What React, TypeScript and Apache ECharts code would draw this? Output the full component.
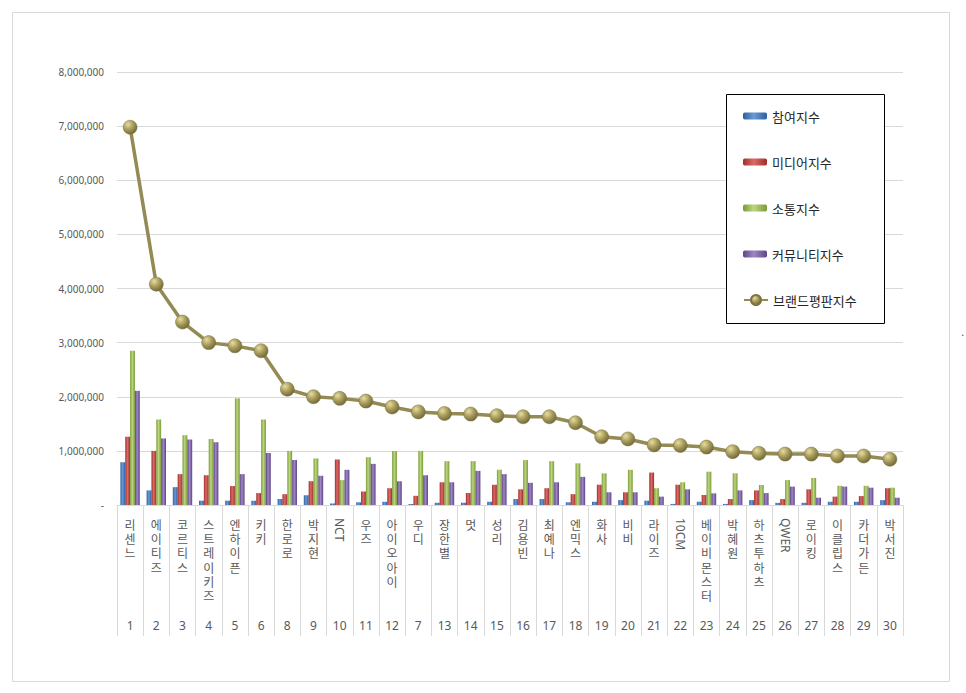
import React, { useEffect, useRef } from "react";
import * as echarts from "echarts";

const names = ["리센느","에이티즈","코르티스","스트레이키즈","엔하이픈","키키","한로로","박지현","NCT","우즈","아이오아이","우디","장한별","멋","성리","김용빈","최예나","엔믹스","화사","비비","라이즈","10CM","베이비몬스터","박혜원","하츠투하츠","QWER","로이킹","이클립스","카더가든","박서진"];
const ranks = ["1","2","3","4","5","6","8","9","10","11","12","7","13","14","15","16","17","18","19","20","21","22","23","24","25","26","27","28","29","30"];
const participation = [790000,270000,330000,80000,80000,80000,110000,180000,30000,50000,60000,20000,40000,40000,60000,110000,110000,50000,60000,90000,80000,20000,60000,20000,90000,40000,40000,60000,60000,90000];
const media = [1260000,1000000,570000,550000,350000,220000,200000,440000,840000,250000,310000,170000,420000,220000,375000,290000,310000,200000,375000,235000,600000,375000,185000,110000,270000,110000,290000,155000,165000,310000];
const communication = [2850000,1580000,1290000,1220000,1970000,1580000,1000000,860000,460000,880000,1000000,1000000,810000,810000,650000,830000,810000,770000,585000,650000,310000,420000,615000,585000,370000,460000,500000,355000,355000,320000];
const community = [2110000,1230000,1210000,1160000,570000,960000,830000,540000,650000,760000,440000,550000,420000,630000,570000,410000,420000,520000,235000,235000,155000,290000,215000,270000,220000,340000,135000,340000,320000,135000];
const brand = [6980000,4080000,3380000,3000000,2940000,2850000,2140000,2000000,1970000,1920000,1810000,1720000,1690000,1680000,1650000,1630000,1630000,1520000,1260000,1220000,1110000,1100000,1070000,985000,955000,940000,940000,905000,905000,845000];
const seriesNames = ["참여지수", "미디어지수", "소통지수", "커뮤니티지수", "브랜드평판지수"];

const isLatin = (s: string) => /^[A-Za-z0-9]+$/.test(s);

const grad = (dark: string, light: string) =>
  new echarts.graphic.LinearGradient(0, 0, 1, 0, [
    { offset: 0, color: dark },
    { offset: 0.45, color: light },
    { offset: 1, color: dark },
  ]);

export default function App() {
  const ref = useRef<HTMLDivElement>(null);
  useEffect(() => {
    if (!ref.current) return;
    const chart = echarts.init(ref.current, undefined, { renderer: "svg" });
    const korean = '"Noto Sans CJK KR", "Noto Sans", sans-serif';
    const barColors = [
      grad("#2E5F9E", "#6A9AD6"),
      grad("#9E2F2C", "#DB6A66"),
      grad("#7A9A38", "#BCD67E"),
      grad("#5E4586", "#9F86C4"),
    ];
    const barData = [participation, media, communication, community];
    const option: any = {
      animation: false,
      backgroundColor: "#fff",
      grid: { left: 117, right: 63, top: 72, bottom: 188, containLabel: false },
      legend: [
        {
          orient: "vertical",
          left: 743,
          top: 109.5,
          padding: 0,
          itemWidth: 24,
          itemHeight: 7,
          itemGap: 33,
          z: 6,
          data: seriesNames.slice(0, 4),
          textStyle: { fontFamily: korean, fontSize: 13, color: "#262626" },
        },
        {
          orient: "vertical",
          left: 743,
          top: 293.5,
          padding: 0,
          itemWidth: 24,
          itemHeight: 12.5,
          z: 6,
          data: [seriesNames[4]],
          textStyle: { fontFamily: korean, fontSize: 13, color: "#262626" },
        },
      ],
      xAxis: [
        {
          type: "category",
          data: names,
          position: "bottom",
          boundaryGap: true,
          axisLine: { show: true, lineStyle: { color: "#D9D9D9", width: 1 } },
          axisTick: { show: true, interval: 0, length: 131, lineStyle: { color: "#D9D9D9" } },
          axisLabel: {
            interval: (_i: number, v: string) => !isLatin(v),
            margin: 12,
            fontFamily: korean,
            fontSize: 12,
            lineHeight: 14.3,
            color: "#595959",
            formatter: (v: string) => v.split("").join("\n"),
          },
        },
        {
          type: "category",
          data: names,
          position: "bottom",
          axisLine: { show: false },
          axisTick: { show: false },
          axisLabel: {
            interval: 0,
            margin: 114,
            fontFamily: '"Noto Sans", sans-serif',
            fontSize: 12,
            color: "#595959",
            formatter: (_v: string, i: number) => ranks[i],
          },
        },
        {
          type: "category",
          data: names,
          position: "bottom",
          axisLine: { show: false },
          axisTick: { show: false },
          axisLabel: {
            interval: (_i: number, v: string) => isLatin(v),
            margin: 13,
            rotate: -90,
            fontFamily: '"Noto Sans", sans-serif',
            fontSize: 12,
            color: "#595959",
          },
        },
      ],
      yAxis: {
        type: "value",
        min: 0,
        max: 8000000,
        interval: 1000000,
        axisLine: { show: false },
        axisTick: { show: false },
        splitLine: { lineStyle: { color: "#D9D9D9", width: 1 } },
        axisLabel: {
          margin: 13,
          fontFamily: '"Noto Sans", sans-serif',
          fontSize: 10,
          color: "#595959",
          formatter: (v: number) => (v === 0 ? "-" : v.toLocaleString("en-US")),
        },
      },
      series: [
        ...barData.map((d, i) => ({
          name: seriesNames[i],
          type: "bar",
          xAxisIndex: 0,
          data: d,
          barGap: "0%",
          barCategoryGap: "26%",
          itemStyle: { color: barColors[i] },
        })),
        {
          name: seriesNames[4],
          type: "line",
          xAxisIndex: 0,
          data: brand,
          z: 3,
          symbol: "circle",
          symbolSize: 14,
          lineStyle: { color: "#948A54", width: 3.5 },
          itemStyle: {
            color: new echarts.graphic.RadialGradient(0.35, 0.3, 0.75, [
              { offset: 0, color: "#E6DDA0" },
              { offset: 0.5, color: "#A89C5C" },
              { offset: 1, color: "#6E6636" },
            ]),
            borderColor: "#7D7443",
            borderWidth: 0.5,
          },
        },
      ],
      graphic: [
        {
          type: "rect",
          shape: { x: 12.5, y: 12.5, width: 937, height: 669 },
          style: { fill: "none", stroke: "#D9D9D9", lineWidth: 1 },
          silent: true,
          z: -10,
        },
        {
          type: "rect",
          shape: { x: 726.5, y: 94.5, width: 158, height: 229 },
          style: { fill: "#fff", stroke: "#000", lineWidth: 1 },
          silent: true,
          z: 4,
        },
        {
          type: "text",
          x: 961,
          y: 326,
          style: { text: ".", fill: "#595959", fontSize: 12 },
        },
      ],
    };
    chart.setOption(option);
    return () => chart.dispose();
  }, []);
  return (
    <div
      ref={ref}
      style={{ position: "absolute", left: 0, top: 0, width: 966, height: 693 }}
    />
  );
}
